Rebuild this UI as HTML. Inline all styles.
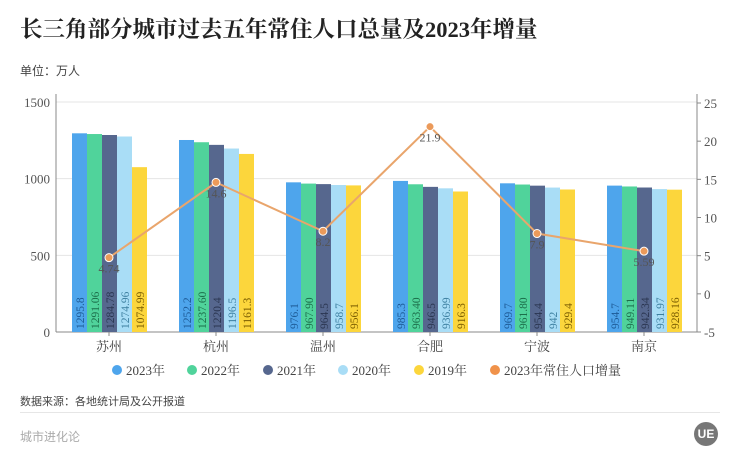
<!DOCTYPE html>
<html><head><meta charset="utf-8"><style>
body{margin:0;background:#fff;width:740px;height:463px;overflow:hidden;font-family:"Liberation Serif","Noto Serif CJK SC",serif;}
.t{position:absolute;left:20px;top:12px;font-size:22.5px;font-weight:bold;color:#222;font-family:"Liberation Serif","Noto Serif CJK SC",serif;}
.u{position:absolute;left:20px;top:62px;font-size:12px;color:#444;font-family:"Liberation Sans","Noto Sans CJK SC",sans-serif;}
.s{position:absolute;left:20px;top:393px;font-size:11px;color:#444;font-family:"Liberation Sans","Noto Sans CJK SC",sans-serif;}
.hr{position:absolute;left:20px;top:412px;width:700px;height:1px;background:#e6e6e6;}
.b{position:absolute;left:20px;top:428px;font-size:12px;color:#aaa;font-family:"Liberation Sans","Noto Sans CJK SC",sans-serif;}
.logo{position:absolute;left:694px;top:422px;width:24px;height:24px;border-radius:50%;background:#777;color:#fff;font:bold 12px "Liberation Sans",sans-serif;text-align:center;line-height:24px;}
</style></head><body>
<div class="t">长三角部分城市过去五年常住人口总量及2023年增量</div>
<div class="u">单位：万人</div>
<svg id="c" width="740" height="463" style="position:absolute;left:0;top:0" font-family="Liberation Serif, Noto Serif CJK SC, serif"></svg>
<div class="s">数据来源：各地统计局及公开报道</div>
<div class="hr"></div>
<div class="b">城市进化论</div>
<div class="logo">UE</div>
<script>
var cities=["苏州","杭州","温州","合肥","宁波","南京"];
var data=[["1295.8","1291.06","1284.78","1274.96","1074.99"],["1252.2","1237.60","1220.4","1196.5","1161.3"],["976.1","967.90","964.5","958.7","956.1"],["985.3","963.40","946.5","936.99","916.3"],["969.7","961.80","954.4","942","929.4"],["954.7","949.11","942.34","931.97","928.16"]];
var inc=["4.74","14.6","8.2","21.9","7.9","5.59"];
var col=["#4ea5ec","#50d39b","#56678e","#a9ddf6","#fcd63c"];
var tc=["#1d5a96","#1c6e4a","#2a3550","#3d7fa0","#7a5c00"];
var s='';
function y(v){return 332-v*230/1500;}
function yr(r){return 332-(r+5)*229/30;}
[0,500,1000,1500].forEach(function(v){s+='<line x1="56" x2="697" y1="'+y(v)+'" y2="'+y(v)+'" stroke="#e4e4e4"/>';s+='<text x="50" y="'+(y(v)+5)+'" font-size="13" fill="#555" text-anchor="end">'+v+'</text>';});
[-5,0,5,10,15,20,25].forEach(function(v){s+='<line x1="697" x2="701" y1="'+yr(v)+'" y2="'+yr(v)+'" stroke="#888"/><text x="704" y="'+(yr(v)+5)+'" font-size="13" fill="#555">'+v+'</text>';});
s+='<line x1="56" x2="56" y1="94" y2="332" stroke="#888"/><line x1="697" x2="697" y1="94" y2="332" stroke="#888"/><line x1="56" x2="697" y1="332" y2="332" stroke="#888"/>';
var pts=[];
cities.forEach(function(c,i){var cx=109+107*i;
 data[i].forEach(function(v,j){var x=cx-37+15*j;var top=y(parseFloat(v));
  s+='<rect x="'+x+'" y="'+top+'" width="15" height="'+(332-top)+'" fill="'+col[j]+'"/>';
  s+='<text transform="translate('+(x+12)+',329) rotate(-90)" font-size="11.5" fill="'+tc[j]+'">'+v+'</text>';});
 s+='<line x1="'+cx+'" x2="'+cx+'" y1="332" y2="336" stroke="#888"/>';
 s+='<text x="'+cx+'" y="351" font-size="13" fill="#444" text-anchor="middle">'+c+'</text>';
 pts.push([cx,yr(parseFloat(inc[i]))]);});
s+='<polyline points="'+pts.map(function(p){return p.join(",")}).join(" ")+'" fill="none" stroke="#e9a56c" stroke-width="2"/>';
pts.forEach(function(p,i){s+='<circle cx="'+p[0]+'" cy="'+p[1]+'" r="4" fill="#eb9a5a" stroke="#fff" stroke-width="1"/>';
 s+='<text x="'+p[0]+'" y="'+(p[1]+15)+'" font-size="12" fill="#555" text-anchor="middle">'+inc[i]+'</text>';});
var lg=[["2023年",col[0],117],["2022年",col[1],192],["2021年",col[2],268],["2020年",col[3],343],["2019年",col[4],419],["2023年常住人口增量","#f0924a",495]];
lg.forEach(function(l){s+='<circle cx="'+l[2]+'" cy="370" r="5" fill="'+l[1]+'"/><text x="'+(l[2]+9)+'" y="375" font-size="13" fill="#444">'+l[0]+'</text>';});
document.getElementById('c').innerHTML=s;
</script>
</body></html>
